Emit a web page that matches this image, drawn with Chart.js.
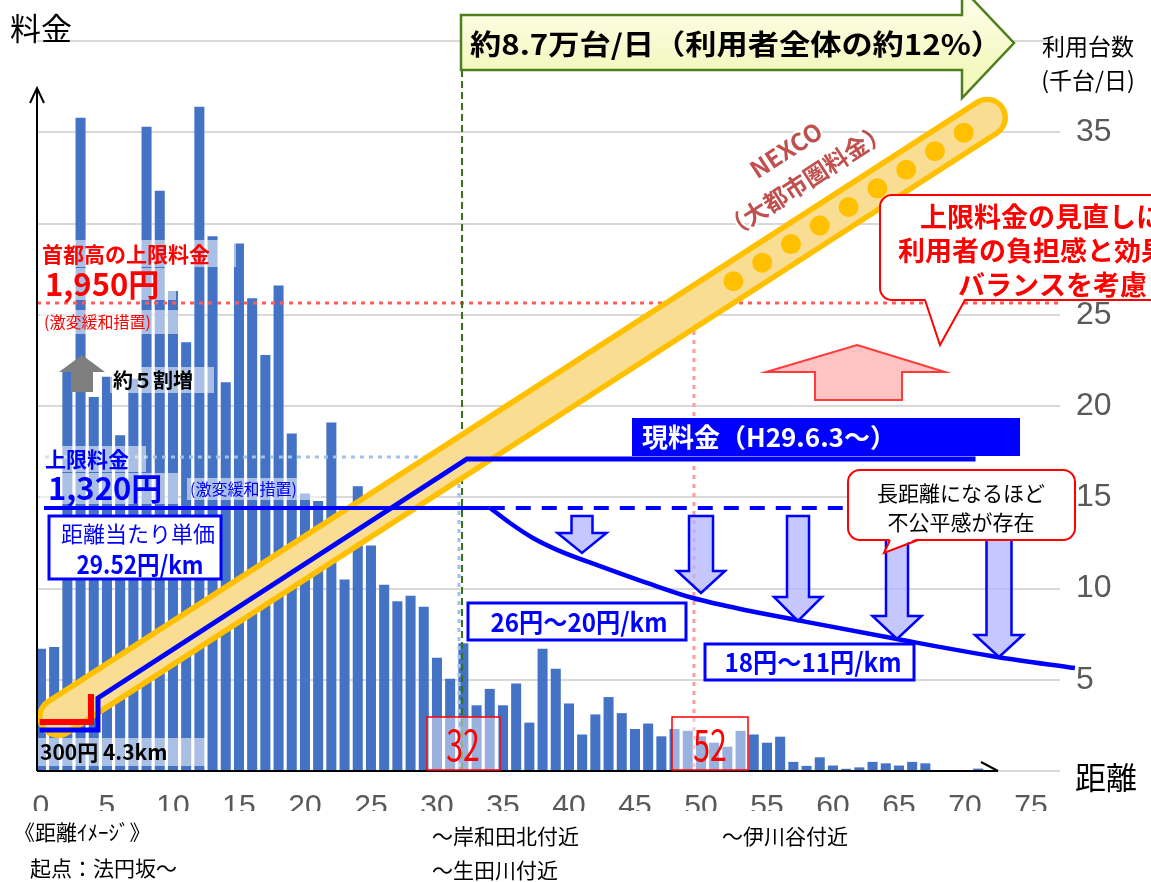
<!DOCTYPE html>
<html lang="ja">
<head>
<meta charset="utf-8">
<script src="https://cdn.jsdelivr.net/npm/chart.js@4.4.1/dist/chart.umd.min.js"></script>
<style>
  html, body { margin: 0; padding: 0; background: #fff; }
  #wrap { width: 1151px; height: 882px; }
</style>
</head>
<body>
<div id="wrap"><canvas id="c" width="1151" height="882"></canvas></div>
<script>
// traffic per km section (thousand vehicles / day), km 0..71
const kmPoints = [];
for (let i = 0; i < 72; i++) kmPoints.push(i);
const traffic = [
  6.7, 6.8, 22.0, 35.8, 20.5, 21.6, 18.4, 21.5, 35.3, 31.8,
  26.3, 23.5, 36.4, 29.3, 21.3, 28.9, 25.9, 22.8, 26.6, 18.5,
  15.2, 14.8, 19.1, 10.5, 15.6, 12.35, 10.2, 9.3, 9.6, 9.0,
  6.2, 5.05, 7.0, 3.6, 4.5, 3.6, 4.8, 2.65, 6.7, 5.6,
  3.7, 2.0, 3.1, 4.05, 3.17, 2.3, 2.6, 1.9, 2.3, 2.2,
  1.9, 1.55, 1.33, 2.2, 2.0, 1.55, 1.88, 0.5, 0.28, 0.75,
  0.3, 0.12, 0.2, 0.5, 0.42, 0.3, 0.5, 0.42, 0.05, 0.05,
  0.05, 0.13
];
const xTicks = [0, 5, 10, 15, 20, 25, 30, 35, 40, 45, 50, 55, 60, 65, 70, 75];
const yTicks = [5, 10, 15, 20, 25, 30, 35];

// fee lines (drawn on the same scales)
const priceKm = [-0.1, 4.32, 4.32, 32.27, 70.8];
const priceVal = [2.25, 2.25, 4.0, 17.1, 17.1];
const minFeeKm = [-0.1, 3.79, 3.79];
const minFeeVal = [2.68, 2.68, 4.22];
const flatKm = [0.23, 34.0];
const flatVal = [14.41, 14.41];
const dashKm = [34.0, 70.8];
const dashVal = [14.41, 14.41];
const curveKm = [34.02, 35.53, 37.27, 39.32, 42.35, 46.14, 49.39, 53.71, 57.27, 64.85, 72.42, 78.33];
const curveVal = [14.41, 13.59, 12.77, 12.05, 11.23, 10.25, 9.48, 8.77, 8.27, 7.23, 6.25, 5.64];

// NEXCO band ends
const bandKm = [1.29, 71.67];
const bandVal = [2.96, 35.8];

const JP = '"Noto Sans CJK JP", sans-serif';

function pts(xs, ys) {
  return xs.map((x, i) => ({ x: x, y: ys[i] }));
}

function txt(ctx, s, x, y, font, color, align, sx) {
  ctx.save();
  ctx.font = font;
  ctx.fillStyle = color;
  ctx.textAlign = align || 'left';
  ctx.textBaseline = 'middle';
  ctx.translate(x, y);
  ctx.scale(sx || 1, 1);
  ctx.fillText(s, 0, 0);
  ctx.restore();
}

function bg(ctx, x, y, w, h) {
  ctx.fillStyle = 'rgba(255,255,255,0.55)';
  ctx.fillRect(x, y, w, h);
}

function box(ctx, x, y, w, h, stroke, lw, fill) {
  ctx.save();
  ctx.fillStyle = fill || '#fff';
  ctx.fillRect(x, y, w, h);
  ctx.strokeStyle = stroke;
  ctx.lineWidth = lw;
  ctx.strokeRect(x, y, w, h);
  ctx.restore();
}

function callout(ctx, x, y, w, h, a, b, tx, ty) {
  ctx.save();
  ctx.strokeStyle = '#ff0000';
  ctx.lineWidth = 2;
  ctx.fillStyle = '#fff';
  ctx.beginPath();
  ctx.roundRect(x, y, w, h, 12);
  ctx.fill();
  ctx.stroke();
  ctx.beginPath();
  ctx.moveTo(a, y + h - 2);
  ctx.lineTo(tx, ty);
  ctx.lineTo(b, y + h - 2);
  ctx.closePath();
  ctx.fill();
  ctx.beginPath();
  ctx.moveTo(a, y + h);
  ctx.lineTo(tx, ty);
  ctx.lineTo(b, y + h);
  ctx.stroke();
  ctx.restore();
}

function downArrow(ctx, cx, top, tip, sw, hw, hh) {
  ctx.beginPath();
  ctx.moveTo(cx - sw / 2, top);
  ctx.lineTo(cx + sw / 2, top);
  ctx.lineTo(cx + sw / 2, tip - hh);
  ctx.lineTo(cx + hw / 2, tip - hh);
  ctx.lineTo(cx, tip);
  ctx.lineTo(cx - hw / 2, tip - hh);
  ctx.lineTo(cx - sw / 2, tip - hh);
  ctx.closePath();
  ctx.fill();
  ctx.stroke();
}

function upArrow(ctx, cx, bottom, tip, sw, hw, hh) {
  ctx.beginPath();
  ctx.moveTo(cx - sw / 2, bottom);
  ctx.lineTo(cx + sw / 2, bottom);
  ctx.lineTo(cx + sw / 2, tip + hh);
  ctx.lineTo(cx + hw / 2, tip + hh);
  ctx.lineTo(cx, tip);
  ctx.lineTo(cx - hw / 2, tip + hh);
  ctx.lineTo(cx - sw / 2, tip + hh);
  ctx.closePath();
  ctx.fill();
}

const overlay = {
  id: 'overlay',
  afterDatasetDraw(chart, args) {
    if (args.index !== 0) return;
    const ctx = chart.ctx;
    const X = v => chart.scales.x.getPixelForValue(v);
    const Y = v => chart.scales.y.getPixelForValue(v);
    const area = chart.chartArea;
    ctx.save();

    // red dotted line (首都高 1,950円)
    ctx.setLineDash([4, 5]);
    ctx.lineWidth = 3;
    ctx.strokeStyle = '#ff5b5b';
    ctx.beginPath();
    ctx.moveTo(area.left, Y(25.65));
    ctx.lineTo(area.right, Y(25.65));
    ctx.stroke();

    // light blue dotted (1,320円)
    ctx.strokeStyle = '#9dc3e6';
    ctx.beginPath();
    ctx.moveTo(X(0.3), Y(17.2));
    ctx.lineTo(X(31.67), Y(17.2));
    ctx.lineTo(X(31.67), Y(0));
    ctx.stroke();

    // pink dotted vertical (52)
    ctx.strokeStyle = '#ff9a9a';
    ctx.beginPath();
    ctx.moveTo(X(49.47), Y(24.6));
    ctx.lineTo(X(49.47), Y(0));
    ctx.stroke();

    // green dashed vertical (32)
    ctx.setLineDash([7, 4]);
    ctx.lineWidth = 2;
    ctx.strokeStyle = '#3b6e1a';
    ctx.beginPath();
    ctx.moveTo(X(31.9), 70);
    ctx.lineTo(X(31.9), Y(0));
    ctx.stroke();
    ctx.setLineDash([]);

    // NEXCO band
    const x0 = X(bandKm[0]), y0 = Y(bandVal[0]);
    const x1 = X(bandKm[1]), y1 = Y(bandVal[1]);
    ctx.lineCap = 'round';
    ctx.strokeStyle = '#ffc000';
    ctx.lineWidth = 42;
    ctx.beginPath();
    ctx.moveTo(x0, y0);
    ctx.lineTo(x1, y1);
    ctx.stroke();
    ctx.strokeStyle = '#f9dd92';
    ctx.lineWidth = 31;
    ctx.beginPath();
    ctx.moveTo(x0, y0);
    ctx.lineTo(x1, y1);
    ctx.stroke();
    ctx.fillStyle = '#ffc000';
    for (let k = 0; k < 9; k++) {
      const f = 0.727 + k * (0.975 - 0.727) / 8;
      ctx.beginPath();
      ctx.arc(x0 + (x1 - x0) * f, y0 + (y1 - y0) * f, 10, 0, Math.PI * 2);
      ctx.fill();
    }
    ctx.restore();
  },

  afterDatasetsDraw(chart) {
    const ctx = chart.ctx;
    const X = v => chart.scales.x.getPixelForValue(v);
    const Y = v => chart.scales.y.getPixelForValue(v);
    const area = chart.chartArea;
    ctx.save();

    // axes arrows
    ctx.strokeStyle = '#000';
    ctx.lineWidth = 2;
    ctx.beginPath();
    ctx.moveTo(area.left, Y(0));
    ctx.lineTo(area.left, 88);
    ctx.moveTo(area.left - 7, 103);
    ctx.lineTo(area.left, 88);
    ctx.lineTo(area.left + 7, 103);
    ctx.moveTo(area.left, Y(0));
    ctx.lineTo(998, Y(0));
    ctx.moveTo(981, Y(0) - 9);
    ctx.lineTo(998, Y(0));
    ctx.stroke();

    // NEXCO text along the band
    const ang = Math.atan2(Y(bandVal[1]) - Y(bandVal[0]), X(bandKm[1]) - X(bandKm[0]));
    ctx.save();
    ctx.translate(786, 150);
    ctx.rotate(ang);
    ctx.font = 'bold 24px ' + JP;
    ctx.textAlign = 'center';
    ctx.textBaseline = 'middle';
    ctx.lineWidth = 4;
    ctx.strokeStyle = '#fff';
    ctx.strokeText('NEXCO', 0, 0);
    ctx.fillStyle = '#c0504d';
    ctx.fillText('NEXCO', 0, 0);
    ctx.strokeText('（大都市圏料金）', 0, 36);
    ctx.fillText('（大都市圏料金）', 0, 36);
    ctx.restore();

    // top banner arrow
    ctx.beginPath();
    ctx.moveTo(461, 15);
    ctx.lineTo(962, 15);
    ctx.lineTo(962, -12);
    ctx.lineTo(1014, 43);
    ctx.lineTo(962, 98);
    ctx.lineTo(962, 70);
    ctx.lineTo(461, 70);
    ctx.closePath();
    const g = ctx.createLinearGradient(0, 15, 0, 70);
    g.addColorStop(0, '#fbfde0');
    g.addColorStop(1, '#f3f8bf');
    ctx.fillStyle = g;
    ctx.fill();
    ctx.strokeStyle = '#4e7f1c';
    ctx.lineWidth = 2.5;
    ctx.stroke();
    ctx.save();
    ctx.font = 'bold 28px ' + JP;
    const bw = ctx.measureText('約8.7万台/日（利用者全体の約12%）').width;
    ctx.restore();
    txt(ctx, '約8.7万台/日（利用者全体の約12%）', 470, 44, 'bold 28px ' + JP, '#000', 'left', 532 / bw);

    // 首都高 labels
    bg(ctx, 40, 240, 196, 27);
    txt(ctx, '首都高の上限料金', 42, 254, 'bold 21px ' + JP, '#ff0000');
    bg(ctx, 40, 268, 136, 32);
    txt(ctx, '1,950円', 45, 284, 'bold 31px ' + JP, '#ff0000');
    bg(ctx, 40, 310, 138, 24);
    txt(ctx, '(激変緩和措置)', 44, 322, '16px ' + JP, '#ff0000');

    // 約5割増
    ctx.fillStyle = '#7f7f7f';
    upArrow(ctx, 82, 392, 355, 22, 46, 17);
    bg(ctx, 110, 367, 104, 26);
    txt(ctx, '約５割増', 113, 380, 'bold 20px ' + JP, '#000');

    // 上限料金 1,320円
    bg(ctx, 40, 446, 106, 26);
    txt(ctx, '上限料金', 45, 459, 'bold 21px ' + JP, '#0000ff');
    bg(ctx, 40, 473, 138, 31);
    txt(ctx, '1,320円', 48, 488, 'bold 31px ' + JP, '#0000ff');
    bg(ctx, 187, 478, 134, 22);
    txt(ctx, '(激変緩和措置)', 190, 489, '16px ' + JP, '#0000ff');

    // 距離当たり単価
    box(ctx, 49, 516, 172, 63, '#0000ff', 3);
    txt(ctx, '距離当たり単価', 138, 534, '22px ' + JP, '#0000ff', 'center');
    txt(ctx, '29.52円/km', 140, 564, 'bold 25px ' + JP, '#0000ff', 'center', 0.9);

    // 300円 4.3km
    bg(ctx, 38, 738, 168, 28);
    txt(ctx, '300円 4.3km', 40, 752, 'bold 21px ' + JP, '#000');

    // 32 / 52 boxes
    ctx.fillStyle = 'rgba(255,255,255,0.45)';
    ctx.fillRect(427, 717, 73, 53);
    ctx.fillRect(672, 717, 76, 53);
    ctx.strokeStyle = '#ff0000';
    ctx.lineWidth = 1.5;
    ctx.strokeRect(427, 717, 73, 53);
    ctx.strokeRect(672, 717, 76, 53);
    txt(ctx, '32', 463, 745, '42px ' + JP, '#ff0000', 'center', 0.72);
    txt(ctx, '52', 710, 745, '42px ' + JP, '#ff0000', 'center', 0.72);

    // rate boxes
    box(ctx, 468, 603, 218, 37, '#0000ff', 3);
    txt(ctx, '26円～20円/km', 579, 622, 'bold 26px ' + JP, '#0000ff', 'center', 0.93);
    box(ctx, 705, 644, 209, 36, '#0000ff', 3);
    txt(ctx, '18円～11円/km', 813, 662, 'bold 26px ' + JP, '#0000ff', 'center', 0.93);

    // down arrows
    ctx.fillStyle = 'rgba(180,180,255,0.75)';
    ctx.strokeStyle = '#0000ff';
    ctx.lineWidth = 2.5;
    downArrow(ctx, 582, 516, 553, 21, 49, 20);
    downArrow(ctx, 701, 516, 593, 24, 48, 22);
    downArrow(ctx, 798, 516, 621, 22, 48, 24);
    downArrow(ctx, 897, 516, 639, 22, 49, 23);
    downArrow(ctx, 999, 516, 657, 25, 48, 22);

    // 現料金 label
    ctx.fillStyle = '#0000ff';
    ctx.fillRect(632, 418, 388, 38);
    txt(ctx, '現料金（H29.6.3～）', 642, 437, 'bold 26px ' + JP, '#fff');

    // pink up arrow
    ctx.fillStyle = '#ffc3c3';
    ctx.strokeStyle = '#ff3b3b';
    ctx.lineWidth = 2;
    ctx.beginPath();
    ctx.moveTo(857, 345);
    ctx.lineTo(945, 372);
    ctx.lineTo(902, 372);
    ctx.lineTo(902, 400);
    ctx.lineTo(815, 400);
    ctx.lineTo(815, 372);
    ctx.lineTo(766, 372);
    ctx.closePath();
    ctx.fill();
    ctx.stroke();

    // callouts
    callout(ctx, 880, 195, 290, 105, 925, 965, 940, 345);
    txt(ctx, '上限料金の見直しに', 920, 217, 'bold 27px ' + JP, '#ff0000');
    txt(ctx, '利用者の負担感と効果の', 898, 251, 'bold 27px ' + JP, '#ff0000');
    txt(ctx, 'バランスを考慮して', 958, 285, 'bold 27px ' + JP, '#ff0000');

    callout(ctx, 848, 470, 227, 70, 890, 918, 884, 553);
    txt(ctx, '長距離になるほど', 961, 493, '21px ' + JP, '#000', 'center');
    txt(ctx, '不公平感が存在', 961, 522, '21px ' + JP, '#000', 'center');

    // titles and bottom notes
    txt(ctx, '料金', 10, 28, '31px ' + JP, '#000');
    txt(ctx, '利用台数', 1088, 46, '23px ' + JP, '#000', 'center');
    txt(ctx, '(千台/日)', 1088, 80, '23px ' + JP, '#000', 'center');
    txt(ctx, '距離', 1075, 777, '31px ' + JP, '#000');
    txt(ctx, '《距離ｲﾒｰｼﾞ》', 14, 832, '21px ' + JP, '#000');
    txt(ctx, '起点：法円坂～', 30, 868, '21px ' + JP, '#000');
    txt(ctx, '～岸和田北付近', 432, 836, '21px ' + JP, '#000');
    txt(ctx, '～生田川付近', 432, 870, '21px ' + JP, '#000');
    txt(ctx, '～伊川谷付近', 722, 836, '21px ' + JP, '#000');
    ctx.restore();
  }
};

const lineBase = { type: 'line', pointRadius: 0, fill: false, clip: false, borderColor: '#0000ff' };

new Chart(document.getElementById('c'), {
  data: {
    datasets: [
      {
        type: 'bar',
        data: pts(kmPoints, traffic),
        backgroundColor: '#4472c4',
        barPercentage: 0.76,
        categoryPercentage: 1.0,
        order: 10
      },
      Object.assign({}, lineBase, { data: pts(minFeeKm, minFeeVal), borderColor: '#ff0000', borderWidth: 6, order: 1 }),
      Object.assign({}, lineBase, { data: pts(priceKm, priceVal), borderWidth: 5, order: 3 }),
      Object.assign({}, lineBase, { data: pts(flatKm, flatVal), borderWidth: 4, order: 2 }),
      Object.assign({}, lineBase, { data: pts(dashKm, dashVal), borderWidth: 4, borderDash: [15, 11], order: 2 }),
      Object.assign({}, lineBase, { data: pts(curveKm, curveVal), borderWidth: 4.5, tension: 0.4, cubicInterpolationMode: 'monotone', order: 2 })
    ]
  },
  options: {
    responsive: false,
    animation: false,
    devicePixelRatio: 1,
    layout: { padding: { left: 37, top: 41, right: 0, bottom: 71 } },
    plugins: { legend: { display: false }, tooltip: { enabled: false } },
    scales: {
      x: {
        type: 'linear',
        offset: false,
        min: -0.3,
        max: 77.2,
        grid: { display: false },
        border: { display: false },
        afterFit: s => { s.height = 40; s.paddingLeft = 0; s.paddingRight = 0; },
        afterBuildTicks: s => { s.ticks = xTicks.map(v => ({ value: v })); },
        ticks: {
          padding: 10,
          color: '#595959',
          font: { family: '"Liberation Sans Narrow", "Liberation Sans", sans-serif', size: 30 },
          maxRotation: 0,
          autoSkip: false
        }
      },
      y: {
        position: 'right',
        min: 0,
        max: 40,
        grid: { color: '#d9d9d9', lineWidth: 2, drawTicks: false },
        border: { display: false },
        afterFit: s => { s.width = 91; },
        afterBuildTicks: s => { s.ticks = [0].concat(yTicks, [40]).map(v => ({ value: v })); },
        ticks: {
          padding: 16,
          color: '#595959',
          font: { family: '"Liberation Sans", sans-serif', size: 32 },
          callback: v => (yTicks.includes(v) ? String(v) : '')
        }
      }
    }
  },
  plugins: [overlay]
});
</script>
</body>
</html>
